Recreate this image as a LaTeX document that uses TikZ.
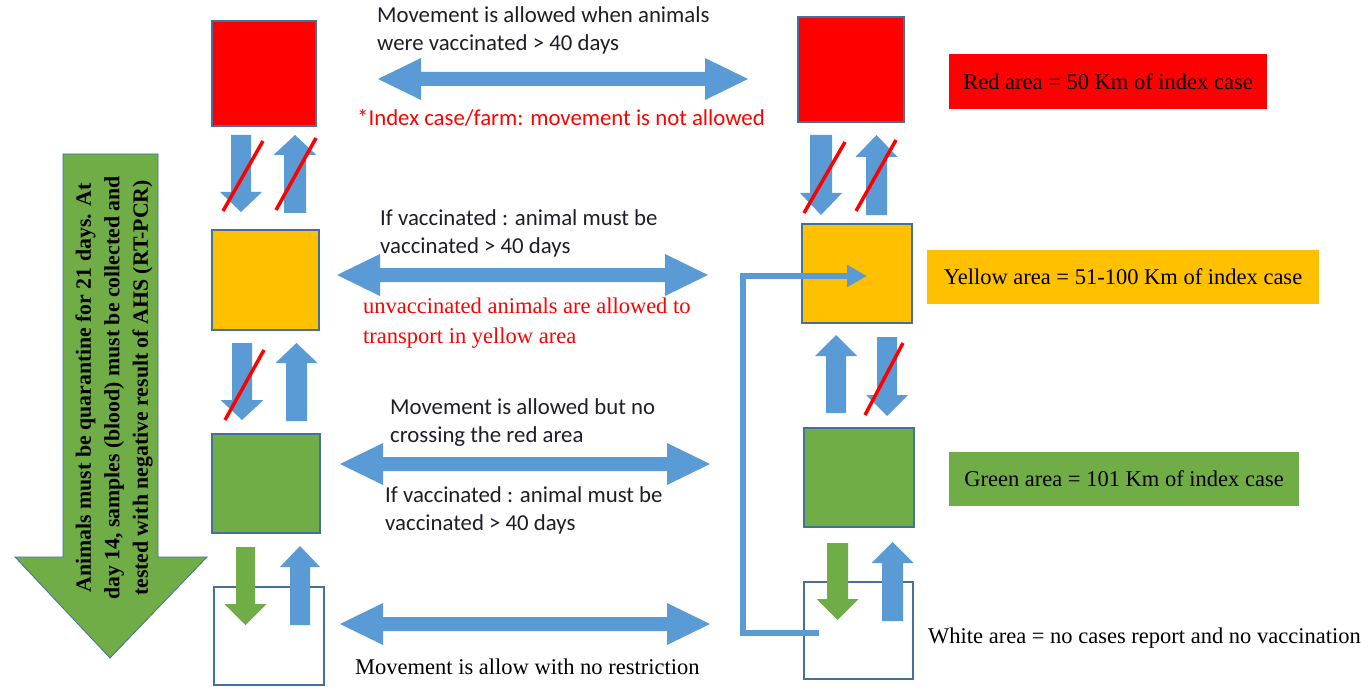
\documentclass[tikz,border=0pt]{standalone}
\usepackage{fontspec}
\setmainfont{Liberation Serif}
\newfontfamily\calib{Carlito}
\usetikzlibrary{arrows.meta}
\definecolor{ablue}{HTML}{5B9BD5}
\definecolor{bord}{HTML}{41719C}
\definecolor{ared}{HTML}{FF0000}
\definecolor{ayel}{HTML}{FFC000}
\definecolor{agrn}{HTML}{70AD47}
\definecolor{atext}{HTML}{1E1E2A}
% block arrow: [colour]{xc}{shaft half}{head half}{y start}{y head base}{y tip}
\newcommand{\blockarrow}[7][ablue]{%
  \fill[#1] ({#2-#3},#5) -- ({#2+#3},#5) -- ({#2+#3},#6) -- ({#2+#4},#6) -- (#2,#7)
    -- ({#2-#4},#6) -- ({#2-#3},#6) -- cycle;}
% double arrow: {x left tip}{x right tip}{y centre}
\newcommand{\dblarrow}[3]{%
  \fill[ablue] (#1,#3) -- ({#1+43},{#3-21}) -- ({#1+43},{#3-7}) -- ({#2-43},{#3-7})
    -- ({#2-43},{#3-21}) -- (#2,#3) -- ({#2-43},{#3+21}) -- ({#2-43},{#3+7})
    -- ({#1+43},{#3+7}) -- ({#1+43},{#3+21}) -- cycle;}
\newcommand{\crossout}[4]{\draw[ared, line width=3.5pt] (#1,#2) -- (#3,#4);}
\tikzset{
  zonebox/.style={draw=bord, line width=1.2pt, inner sep=0pt, outer sep=0pt},
  sanstxt/.style={font=\calib\fontsize{22.8}{28}\selectfont, text=atext, anchor=west, align=left, inner sep=0pt},
  seriftxt/.style={font=\fontsize{22.5}{30}\selectfont, text=black, anchor=west, align=left, inner sep=0pt},
  labelbox/.style={font=\fontsize{22.5}{28}\selectfont, text=black, inner sep=0pt, outer sep=0pt},
}
\begin{document}
\begin{tikzpicture}[x=1pt, y=-1pt]
\useasboundingbox (0,0) rectangle (1370,687);
\fill[white] (0,0) rectangle (1370,687);

% big left arrow
\filldraw[fill=agrn, draw=bord, line width=0.8pt] (63,154) -- (158,154) -- (158,557) -- (207,557)
  -- (110,658) -- (15,557) -- (63,557) -- cycle;
\node[rotate=90, align=center, font=\bfseries\fontsize{21.8}{28.5}\selectfont, inner sep=0pt] (quar) at (114,388)
  {Animals must be quarantine for 21 days. At\\day 14, samples (blood) must be collected and\\tested with negative result of AHS (RT-PCR)};

% left column boxes
\node[zonebox, fill=ared, minimum width=104pt, minimum height=105pt] (lred) at (264,73.5) {};
\node[zonebox, fill=ayel, minimum width=107pt, minimum height=100pt] (lyel) at (265.5,280) {};
\node[zonebox, fill=agrn, minimum width=108pt, minimum height=99pt] (lgrn) at (266,483.5) {};
\node[zonebox, fill=white, minimum width=110pt, minimum height=98pt] (lwht) at (269,636) {};

% right column boxes
\node[zonebox, fill=ared, minimum width=106pt, minimum height=105pt] (rred) at (851,69.5) {};
\node[zonebox, fill=ayel, minimum width=110pt, minimum height=99pt] (ryel) at (857,273.5) {};
\node[zonebox, fill=agrn, minimum width=110pt, minimum height=99pt] (rgrn) at (859,477.5) {};
\node[zonebox, fill=white, minimum width=109pt, minimum height=97pt] (rwht) at (858.5,630.5) {};

% left column vertical arrows
\blockarrow{241}{10}{21}{135}{192}{212}
\blockarrow{295}{11}{21.5}{213}{155}{135}
\crossout{223}{211}{263}{141}
\crossout{276}{210}{316}{138}
\blockarrow{242}{10}{21.5}{343}{400}{420}
\blockarrow{296.5}{10.5}{21}{421}{363}{343}
\crossout{225}{420}{264}{350}
\blockarrow[agrn]{245.5}{9.5}{21}{547}{604}{625}
\blockarrow{300}{10}{20}{625}{567}{546}

% right column vertical arrows
\blockarrow{821}{11}{21}{135}{193}{215}
\blockarrow{876.5}{10.5}{21}{215}{157}{135}
\crossout{804}{213}{845}{142}
\crossout{856}{211}{896}{140}
\blockarrow{836}{10}{21}{413}{356}{335}
\blockarrow{887}{10}{21}{337}{395}{416}
\crossout{865}{415}{903}{343}
\blockarrow[agrn]{837.5}{10.5}{21}{543}{599}{620}
\blockarrow{892.5}{10.5}{21}{621}{563}{542}

% connector white -> yellow (right column)
\coordinate (lstart) at (819,633);
\coordinate (ltip) at (867,276);
\draw[ablue, line width=5.5pt, -{Triangle[length=20pt,width=21pt]}] (lstart) -- (743,633) |- (ltip);

% horizontal double arrows
\dblarrow{378}{748}{79}
\dblarrow{337}{708}{275}
\dblarrow{340}{710}{464}
\dblarrow{340}{710}{624}

% texts
\node[sanstxt] (t1) at (377,30) {Movement is allowed when animals\\were vaccinated > 40 days};
\node[sanstxt, text=ared] (t2) at (357,118) {*Index case/farm: movement is not allowed};
\node[sanstxt] (t3) at (380,233.5) {If vaccinated : animal must be\\vaccinated > 40 days};
\node[seriftxt, text=ared] (t4) at (363,323) {unvaccinated animals are allowed to\\transport in yellow area};
\node[sanstxt] (t5) at (390,422.5) {Movement is allowed but no\\crossing the red area};
\node[sanstxt] (t6) at (385,510.5) {If vaccinated : animal must be\\vaccinated > 40 days};
\node[seriftxt] (t7) at (355,667) {Movement is allow with no restriction};

% right labels
\node[labelbox, fill=ared, minimum width=318pt, minimum height=55pt] (redlab) at (1108,81.5) {Red area = 50 Km of index case};
\node[labelbox, fill=ayel, minimum width=392pt, minimum height=54pt] (yellab) at (1123,277) {Yellow area = 51-100 Km of index case};
\node[labelbox, fill=agrn, minimum width=350pt, minimum height=54pt] (grnlab) at (1124,479) {Green area = 101 Km of index case};
\node[seriftxt] (whtlab) at (928,638) {White area = no cases report and no vaccination};
\end{tikzpicture}
\end{document}
